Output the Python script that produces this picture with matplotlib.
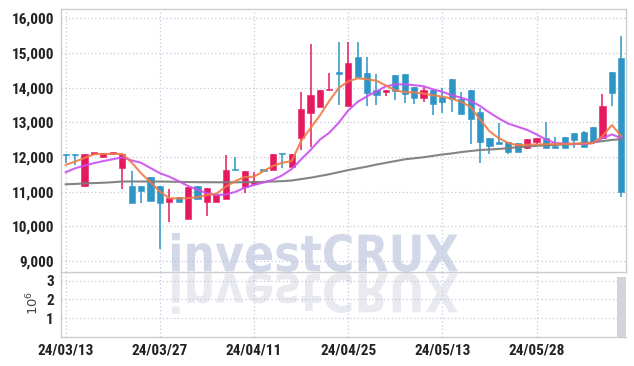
import matplotlib
matplotlib.use('Agg')
import matplotlib.pyplot as plt
import numpy as np
from matplotlib import font_manager
from matplotlib.textpath import TextPath
from matplotlib.patches import PathPatch
from matplotlib.transforms import Affine2D
from matplotlib.ticker import FuncFormatter

# daily candles (open, high, low, close)
opens = [12070, 12070, 11150, 12090, 11990, 12090, 11690, 11160, 11160, 11420,
         11170, 10690, 10830, 10210, 11160, 10690, 10690, 10780, 11630, 11140,
         11220, 11610, 11625, 12090, 11720, 12540, 13280, 13450, 13920, 14420,
         13470, 14890, 14430, 13930, 13870, 14365, 14390, 14010, 13710, 13930,
         13740, 14250, 13670, 13930, 13290, 12540, 12400, 12420, 12390, 12267,
         12440, 12540, 12320, 12570, 12680, 12720, 12865, 12540, 14450, 14850]
highs = [12070, 12070, 12090, 12090, 12100, 12090, 12076, 11600, 11160, 11420,
         11170, 11075, 10830, 11140, 11160, 11100, 10930, 12056, 11990, 11600,
         11575, 11610, 12085, 12090, 12085, 13880, 15260, 13930, 14410, 15320,
         15310, 15308, 14875, 14400, 13930, 14365, 14390, 14010, 14010, 13930,
         13980, 14250, 13880, 13930, 13400, 12540, 12990, 12420, 12400, 12510,
         12540, 13020, 12570, 12570, 12680, 12750, 12865, 13810, 14450, 15490]
lows = [11830, 11780, 11130, 12090, 11990, 12090, 11075, 10680, 10680, 10720,
        9340, 10130, 10690, 10200, 10780, 10300, 10690, 10778, 11620, 10950,
        11220, 11600, 11625, 11670, 11720, 12200, 12280, 13450, 13920, 13500,
        13470, 14315, 13470, 13500, 13770, 13640, 13550, 13520, 13580, 13210,
        13280, 13290, 13230, 12365, 11820, 12080, 12385, 12085, 12150, 12240,
        12375, 12270, 12270, 12270, 12270, 12300, 12420, 12540, 13470, 10850]
closes = [12050, 12050, 12080, 12090, 12100, 12090, 12076, 10680, 11030, 10720,
          10660, 10810, 10690, 11130, 10780, 11100, 10930, 11625, 11620, 11600,
          11310, 11600, 12085, 12080, 12085, 13385, 13790, 13930, 13935, 14400,
          14720, 14315, 13850, 13800, 13930, 13900, 13820, 13710, 13930, 13530,
          13590, 13670, 13230, 13090, 12440, 12325, 12385, 12150, 12150, 12508,
          12540, 12270, 12270, 12270, 12490, 12300, 12420, 13470, 13835, 11000]

# moving averages
ma5 = [11768, 11865, 11970, 12076, 12085, 12085, 12085, 11840, 11530, 11270,
       11000, 10807, 10800, 10810, 10840, 10900, 10940, 11140, 11300, 11420,
       11430, 11590, 11740, 11830, 11880, 12460, 12830, 13200, 13620, 13990,
       14180, 14270, 14240, 14200, 14060, 13920, 13870, 13860, 13830, 13780,
       13740, 13680, 13590, 13440, 13080, 12740, 12540, 12400, 12340, 12350,
       12360, 12365, 12370, 12374, 12380, 12385, 12400, 12600, 12920, 12600]
ma20 = [11557, 11672, 11750, 11820, 11880, 11932, 11990, 11900, 11830, 11680,
        11530, 11430, 11300, 11160, 11050, 10950, 10900, 10915, 10990, 11110,
        11190, 11260, 11340, 11470, 11650, 11930, 12200, 12500, 12700, 12990,
        13340, 13590, 13750, 13890, 14040, 14090, 14096, 14070, 14040, 13950,
        13880, 13780, 13710, 13620, 13470, 13280, 13110, 12960, 12870, 12780,
        12650, 12500, 12400, 12385, 12375, 12375, 12400, 12540, 12650, 12540]
ma_long = [11210, 11220, 11235, 11245, 11255, 11270, 11290, 11290, 11290, 11290,
           11290, 11285, 11280, 11275, 11270, 11270, 11268, 11268, 11268, 11270,
           11270, 11280, 11290, 11300, 11320, 11360, 11400, 11450, 11500, 11560,
           11620, 11670, 11720, 11780, 11830, 11880, 11930, 11960, 11990, 12030,
           12070, 12100, 12140, 12170, 12200, 12215, 12230, 12255, 12280, 12300,
           12320, 12335, 12350, 12360, 12370, 12395, 12420, 12455, 12490, 12510]

# volume in millions
volume = [0.0] * 59 + [3.22]

tick_pos = [0, 10, 20, 30, 40, 50]
tick_labels = ['24/03/13', '24/03/27', '24/04/11', '24/04/25', '24/05/13', '24/05/28']

red = '#e6195f'
blue = '#2e95c7'

names = {f.name for f in font_manager.fontManager.ttflist}
tick_font = 'DejaVu Sans'
for cand in ['Roboto Condensed', 'Liberation Sans Narrow', 'Liberation Sans', 'Roboto']:
    if cand in names:
        tick_font = cand
        break

W, H = 634, 366
fig = plt.figure(figsize=(W / 100, H / 100), dpi=100)
fig.patch.set_facecolor('white')

left, right = 61, 626
top, mid, bot = 9.3, 272.3, 336.7
ax = fig.add_axes([left / W, 1 - mid / H, (right - left) / W, (mid - top) / H])
axv = fig.add_axes([left / W, 1 - bot / H, (right - left) / W, (bot - mid) / H], sharex=ax)
for a in (ax, axv):
    a.set_facecolor('none')

# watermark and its reflection
fp = font_manager.FontProperties(family='DejaVu Sans', weight='bold')
tp = TextPath((0, 0), 'investCRUX', size=1, prop=fp)
ext = tp.get_extents()
sx = (458 - 172) / W / ext.width
sy = (272 - 233) / H / ext.height
base = Affine2D().translate(-ext.x0, -ext.y0)
t_main = base + Affine2D().scale(sx, sy).translate(172 / W, 1 - 272 / H) + fig.transFigure
t_refl = base + Affine2D().scale(sx, -sy * 1.05).translate(172 / W, 1 - 273 / H) + fig.transFigure
fig.add_artist(PathPatch(tp, transform=t_refl, facecolor='#e9eaf0', edgecolor='none', zorder=-2))
fig.add_artist(PathPatch(tp, transform=t_main, facecolor='#d2d8e8', edgecolor='none', zorder=-1))

x = np.arange(len(opens))
o = np.array(opens, float)
h = np.array(highs, float)
l = np.array(lows, float)
c = np.array(closes, float)
colors = np.where(c >= o, red, blue)

ax.vlines(x, l, h, colors=colors, lw=1.1, zorder=3)
ax.bar(x, np.maximum(np.abs(c - o), 40), bottom=np.minimum(o, c), width=0.66,
       color=colors, edgecolor=colors, lw=0.4, zorder=4)

ax.plot(x, ma_long, color='#7d7d7d', lw=1.5, zorder=5, alpha=0.95)
ax.plot(x, ma20, color='#cc4ff0', lw=1.5, zorder=6, alpha=0.9)
ax.plot(x, ma5, color='#f07c45', lw=1.5, zorder=7, alpha=0.9)

axv.bar(x, volume, width=1.0, color='#d3d3d9', zorder=3)

grid_kw = dict(color='#c5c8dc', linestyle=(0, (1, 2)), lw=0.9)
for a in (ax, axv):
    a.grid(True, **grid_kw)
    a.set_axisbelow(True)
    a.tick_params(length=0, labelsize=11, colors='#222222', pad=5)
    for s in a.spines.values():
        s.set_color('#cccccc')
        s.set_linewidth(1.0)

ax.set_xlim(-0.5, 59.5)
ax.set_ylim(8670, 16260)
ax.set_yticks(range(9000, 16001, 1000))
ax.yaxis.set_major_formatter(FuncFormatter(lambda v, p: f'{int(v):,}'))
ax.tick_params(labelbottom=False)

axv.set_ylim(0, 3.46)
axv.set_yticks([1, 2, 3])
axv.spines['top'].set_visible(False)
axv.spines['right'].set_visible(False)
axv.set_xticks(tick_pos)
axv.set_xticklabels(tick_labels)

for a in (ax, axv):
    for lab in a.get_xticklabels() + a.get_yticklabels():
        lab.set_fontfamily(tick_font)
        lab.set_fontweight('bold')

fig.text(33 / W, 1 - 303 / H, r'$10^6$', rotation=90, ha='center', va='center',
         fontsize=9.5, color='#444444')

fig.savefig('out.png', dpi=100)
